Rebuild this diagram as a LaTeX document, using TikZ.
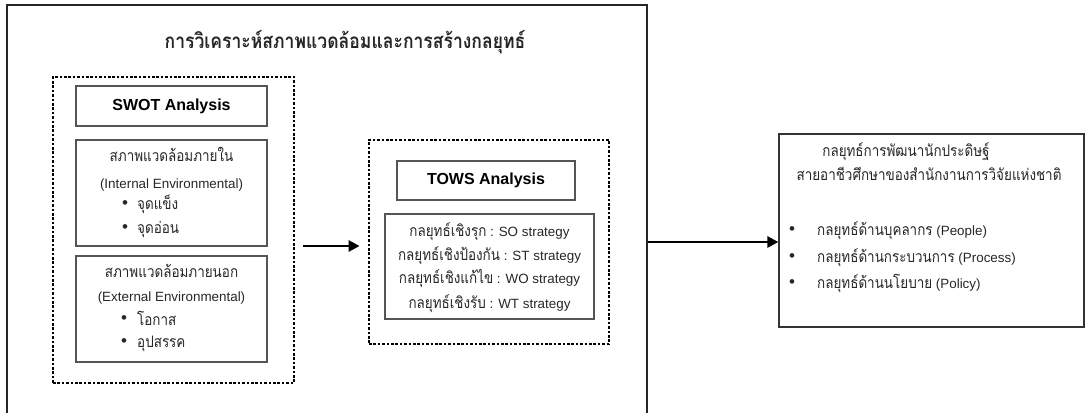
\documentclass[tikz,border=0pt]{standalone}
\usepackage{fontspec}
\setmainfont{Liberation Sans}
\newfontfamily\thai[Script=Thai, Scale=1.18, FakeStretch=0.85]{Loma}
\usetikzlibrary{arrows.meta}
\definecolor{ink}{HTML}{262626}
\definecolor{edge}{HTML}{555555}
\begin{document}
\begin{tikzpicture}[x=1pt,y=-1pt,
  sbox/.style={draw=edge, line width=1.2pt, rectangle, inner sep=0pt},
  dbox/.style={draw=black, line width=2.8pt, dash pattern=on 2.6pt off 1.8pt, rectangle, inner sep=0pt},
  frame/.style={draw=black!85, line width=1.3pt, rectangle, inner sep=0pt},
  txt/.style={inner sep=0pt, anchor=base, text=ink, font=\fontsize{13.4}{15}\selectfont},
  ltxt/.style={txt, anchor=base west},
  bul/.style={inner sep=0pt, text=ink, font=\fontsize{17}{17}\selectfont},
  hd/.style={inner sep=0pt, text=black, font=\bfseries\fontsize{16}{18}\selectfont},
  arr/.style={line width=2.7pt, draw=black, -{Triangle[length=11pt,width=11pt]}}
]
\useasboundingbox (0,0) rectangle (1086,412);
% outer frame
\node[frame, minimum width=640pt, minimum height=425pt] (outer) at (327,217.5) {};
\node[inner sep=0pt, text=ink, font=\thai\bfseries\fontsize{17.5}{19}\selectfont] (title) at (345,42) {การวิเคราะห์สภาพแวดล้อมและการสร้างกลยุทธ์};
% SWOT group
\node[dbox, minimum width=241pt, minimum height=306pt] (swotdot) at (173.5,230) {};
\node[sbox, minimum width=191pt, minimum height=40pt, hd] (swot) at (171.5,106) {SWOT Analysis};
\node[sbox, minimum width=191pt, minimum height=106pt] (internal) at (171.5,193) {};
\node[sbox, minimum width=191pt, minimum height=106pt] (external) at (171.5,309) {};
\node[txt] (i1) at (171.5,161.7) {\thai สภาพแวดล้อมภายใน};
\node[txt] (i2) at (171.5,188.3) {(Internal Environmental)};
\node[bul] (i3b) at (125,204.3) {•};
\node[ltxt] (i3) at (137,209.3) {\thai จุดแข็ง};
\node[bul] (i4b) at (125,228.3) {•};
\node[ltxt] (i4) at (137,233.3) {\thai จุดอ่อน};
\node[txt] (e1) at (171.5,277.7) {\thai สภาพแวดล้อมภายนอก};
\node[txt] (e2) at (171.5,301.7) {(External Environmental)};
\node[bul] (e3b) at (124,320) {•};
\node[ltxt] (e3) at (137,325) {\thai โอกาส};
\node[bul] (e4b) at (124,342.3) {•};
\node[ltxt] (e4) at (137,347.3) {\thai อุปสรรค};
% TOWS group
\node[dbox, minimum width=240pt, minimum height=204pt] (towsdot) at (489,242) {};
\node[sbox, minimum width=178pt, minimum height=39pt, hd] (tows) at (486,180.5) {TOWS Analysis};
\node[sbox, minimum width=209pt, minimum height=105pt] (strat) at (489.5,266.5) {};
\node[txt] (s1) at (489.5,236) {{\thai กลยุทธ์เชิงรุก} : SO strategy};
\node[txt] (s2) at (489.5,260) {{\thai กลยุทธ์เชิงป้องกัน} : ST strategy};
\node[txt] (s3) at (489.5,283) {{\thai กลยุทธ์เชิงแก้ไข} : WO strategy};
\node[txt] (s4) at (489.5,308) {{\thai กลยุทธ์เชิงรับ} : WT strategy};
% result box
\node[sbox, draw=black!80, minimum width=305pt, minimum height=193pt] (right) at (931.5,230.5) {};
\node[txt] (r1) at (906,156) {\thai กลยุทธ์การพัฒนานักประดิษฐ์};
\node[txt] (r2) at (929,180) {\thai สายอาชีวศึกษาของสำนักงานการวิจัยแห่งชาติ};
\node[bul] (r3b) at (792,231) {•};
\node[ltxt] (r3) at (817,235) {{\thai กลยุทธ์ด้านบุคลากร} (People)};
\node[bul] (r4b) at (792,258) {•};
\node[ltxt] (r4) at (817,262) {{\thai กลยุทธ์ด้านกระบวนการ} (Process)};
\node[bul] (r5b) at (792,284) {•};
\node[ltxt] (r5) at (817,288) {{\thai กลยุทธ์ด้านนโยบาย} (Policy)};
% arrows
\coordinate (ya) at (0,246);
\coordinate (yb) at (0,242);
\draw[arr, shorten <=8pt, shorten >=8pt] (swotdot.east |- ya) -- (towsdot.west |- ya);
\draw[arr] (outer.east |- yb) -- (right.west |- yb);
\end{tikzpicture}
\end{document}
